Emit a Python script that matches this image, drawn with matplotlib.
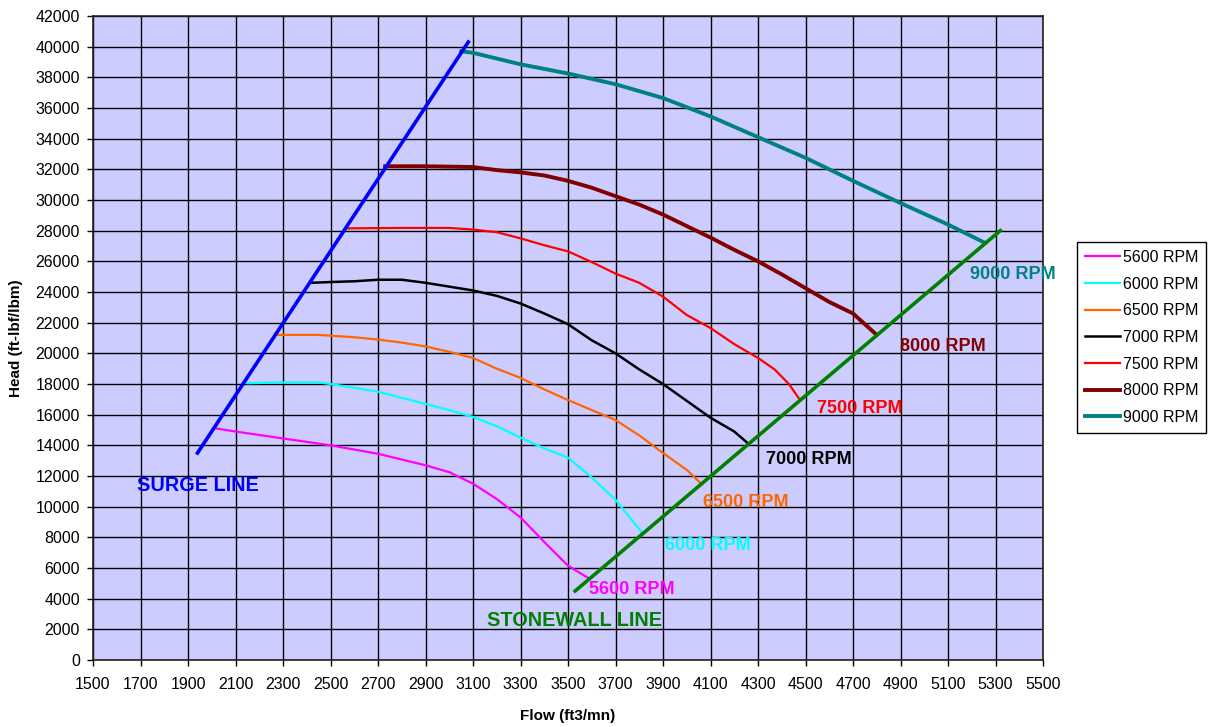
import matplotlib.pyplot as plt
import numpy as np

plt.rcParams['font.family'] = ['Liberation Sans', 'DejaVu Sans']

# Surge / stonewall limits (flow, head)
surge_x = [1940, 3080]
surge_y = [13500, 40300]
stone_x = [3530, 5320]
stone_y = [4500, 28000]

# Speed lines
rpm_5600_x = [2020, 2100, 2300, 2500, 2700, 2900, 3000, 3100, 3200, 3300, 3400, 3500, 3585]
rpm_5600_y = [15100, 14900, 14450, 14000, 13450, 12700, 12250, 11500, 10500, 9300, 7700, 6150, 5350]

rpm_6000_x = [2150, 2300, 2450, 2500, 2600, 2700, 2800, 2900, 3000, 3100, 3200, 3300, 3400, 3500, 3600, 3700, 3812]
rpm_6000_y = [18050, 18100, 18100, 18000, 17750, 17500, 17100, 16700, 16300, 15850, 15250, 14500, 13800, 13200, 11900, 10450, 8300]

rpm_6500_x = [2280, 2450, 2600, 2700, 2800, 2900, 3000, 3100, 3200, 3300, 3400, 3500, 3600, 3700, 3800, 3900, 4000, 4064]
rpm_6500_y = [21200, 21200, 21050, 20900, 20700, 20450, 20100, 19700, 19000, 18400, 17650, 16950, 16300, 15650, 14650, 13500, 12400, 11450]

rpm_7000_x = [2420, 2500, 2600, 2700, 2800, 2900, 3000, 3100, 3200, 3300, 3400, 3500, 3600, 3700, 3800, 3900, 4000, 4100, 4200, 4260]
rpm_7000_y = [24600, 24650, 24700, 24800, 24800, 24600, 24350, 24100, 23750, 23250, 22600, 21900, 20850, 20000, 18950, 18000, 16900, 15800, 14900, 14100]

rpm_7500_x = [2570, 2800, 3000, 3100, 3200, 3300, 3400, 3500, 3600, 3700, 3800, 3900, 4000, 4100, 4200, 4300, 4370, 4430, 4475]
rpm_7500_y = [28150, 28180, 28180, 28070, 27900, 27500, 27050, 26650, 25950, 25200, 24600, 23700, 22500, 21650, 20600, 19700, 18950, 18000, 17000]

rpm_8000_x = [2730, 2900, 3100, 3200, 3300, 3400, 3500, 3600, 3700, 3800, 3900, 4000, 4100, 4200, 4300, 4400, 4500, 4600, 4700, 4800]
rpm_8000_y = [32200, 32200, 32150, 31950, 31800, 31600, 31250, 30800, 30250, 29700, 29050, 28300, 27550, 26750, 26000, 25150, 24250, 23350, 22600, 21200]

rpm_9000_x = [3050, 3100, 3300, 3500, 3700, 3900, 4100, 4300, 4500, 4700, 4900, 5100, 5250]
rpm_9000_y = [39700, 39600, 38850, 38250, 37550, 36650, 35450, 34100, 32750, 31250, 29800, 28400, 27250]

series = [
    ('5600 RPM', rpm_5600_x, rpm_5600_y, '#FF00FF', 1.6, (3590, 4566)),
    ('6000 RPM', rpm_6000_x, rpm_6000_y, '#00FFFF', 1.6, (3908, 7480)),
    ('6500 RPM', rpm_6500_x, rpm_6500_y, '#FF6600', 1.6, (4070, 10260)),
    ('7000 RPM', rpm_7000_x, rpm_7000_y, '#000000', 1.8, (4334, 13066)),
    ('7500 RPM', rpm_7500_x, rpm_7500_y, '#FF0000', 1.6, (4547, 16393)),
    ('8000 RPM', rpm_8000_x, rpm_8000_y, '#800000', 2.8, (4898, 20418)),
    ('9000 RPM', rpm_9000_x, rpm_9000_y, '#008080', 2.8, (5193, 25114)),
]

fig = plt.figure(figsize=(12.12, 7.27), dpi=100)
ax = fig.add_axes([93 / 1212, 1 - 660 / 727, 950 / 1212, 644 / 727])
ax.set_facecolor('#CCCCFF')

for label, x, y, color, lw, (tx, ty) in series:
    ax.plot(x, y, color=color, lw=lw, label=label, zorder=3)
    ax.text(tx, ty, label, color=color, fontsize=13, fontweight='bold',
            ha='left', va='center', zorder=5)

ax.plot(surge_x, surge_y, color='#0000FF', lw=2.6, zorder=4)
ax.plot(stone_x, stone_y, color='#008000', lw=2.6, zorder=4)
ax.text(1686, 11363, 'SURGE LINE', color='#0000FF', fontsize=14.3,
        fontweight='bold', ha='left', va='center')
ax.text(3158, 2565, 'STONEWALL LINE', color='#008000', fontsize=14.3,
        fontweight='bold', ha='left', va='center')

ax.set_xlim(1500, 5500)
ax.set_ylim(0, 42000)
ax.set_xticks(np.arange(1500, 5501, 200))
ax.set_yticks(np.arange(0, 42001, 2000))
ax.grid(True, color='black', lw=1.0, zorder=1)
ax.set_axisbelow(True)
for sp in ax.spines.values():
    sp.set_color('#222222')
    sp.set_linewidth(1.2)
ax.tick_params(axis='both', direction='out', length=4.5, width=1,
               labelsize=11.5, color='black')
ax.tick_params(axis='x', pad=8)
ax.tick_params(axis='y', pad=5)

ax.set_xlabel('Flow (ft3/mn)', fontsize=11, fontweight='bold', labelpad=12)
ax.set_ylabel('Head (ft-lbf/lbm)', fontsize=11, fontweight='bold', labelpad=9)

leg = fig.legend(loc='upper left', bbox_to_anchor=(1077 / 1212, 1 - 242 / 727),
                 fontsize=11.5, frameon=True, fancybox=False, edgecolor='black',
                 framealpha=1, handlelength=2.2, handletextpad=0.15,
                 labelspacing=0.73, borderpad=0.5, borderaxespad=0)
leg.get_frame().set_linewidth(1.0)

fig.savefig('out.png', dpi=100)
